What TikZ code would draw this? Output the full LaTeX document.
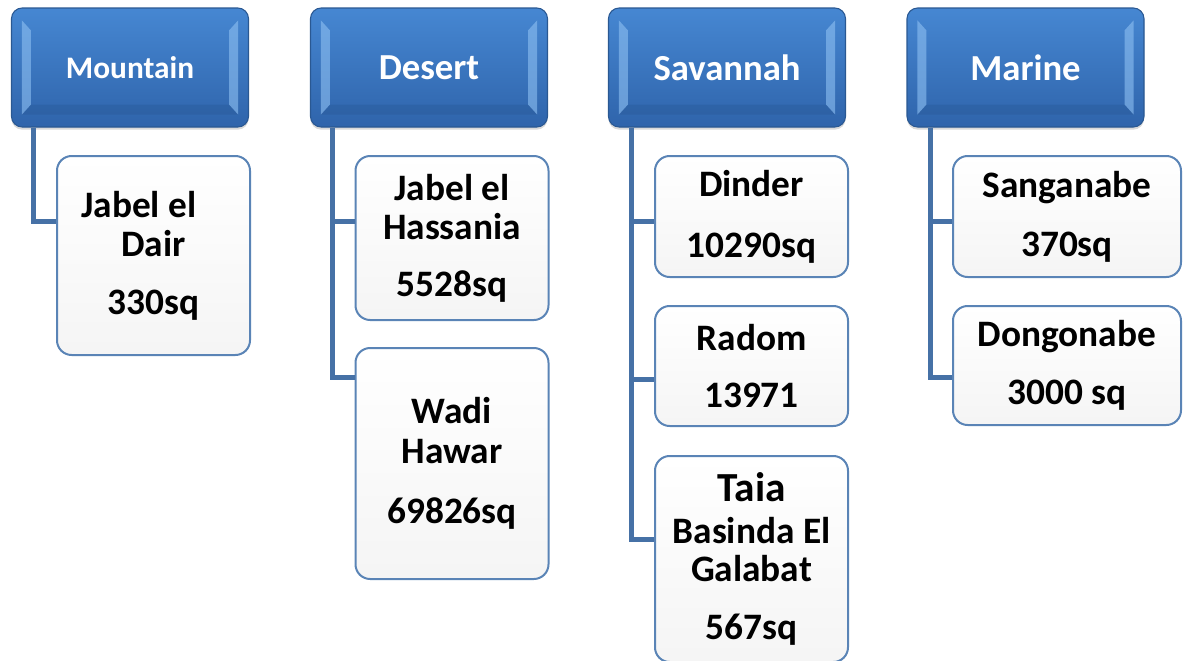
\documentclass[tikz,border=0pt]{standalone}
\usepackage{fontspec}
\setmainfont{Carlito}
\usetikzlibrary{calc,shadows}

\definecolor{hdrtop}{HTML}{4687D2}
\definecolor{hdrbot}{HTML}{2F64AB}
\definecolor{hdredge}{HTML}{2A5892}
\definecolor{bevelhi}{HTML}{8EC0F2}
\definecolor{beveldk}{HTML}{234F88}
\definecolor{leafedge}{HTML}{5A84B6}
\definecolor{linkblue}{HTML}{4671A6}

\tikzset{
  hdr/.style={rounded corners=8pt, minimum width=177.75pt, minimum height=89.25pt,
    top color=hdrtop, bottom color=hdrbot, draw=hdredge, line width=0.8pt,
    text=white, font=\fontsize{27.5}{30}\selectfont\bfseries,
    drop shadow={shadow xshift=0pt, shadow yshift=-2pt, opacity=0.3}},
  leaf/.style={rounded corners=11pt, minimum width=144.75pt, draw=leafedge,
    line width=1.5pt, top color=white, bottom color=black!4, align=center,
    font=\fontsize{28}{29.5}\selectfont\bfseries},
  link/.style={draw=linkblue, line width=3.75pt}
}

% light edges of a header box
\newcommand{\hdrbevel}[1]{%
  \fill[bevelhi, opacity=0.6] ($(#1.north west)+(11,13)$) -- ($(#1.north west)+(20,23)$)
    -- ($(#1.south west)+(20,-23)$) -- ($(#1.south west)+(11,-13)$) -- cycle;
  \fill[bevelhi, opacity=0.6] ($(#1.north east)+(-11,13)$) -- ($(#1.north east)+(-20,23)$)
    -- ($(#1.south east)+(-20,-23)$) -- ($(#1.south east)+(-11,-13)$) -- cycle;
  \fill[beveldk, opacity=0.25] ($(#1.south west)+(11,-13)$) -- ($(#1.south west)+(20,-23)$)
    -- ($(#1.south east)+(-20,-23)$) -- ($(#1.south east)+(-11,-13)$) -- cycle;
}

\begin{document}
\begin{tikzpicture}[x=0.75pt,y=-0.75pt]
\useasboundingbox (0,0) rectangle (1183,661);

% column heads
\node[hdr, font=\fontsize{23.5}{26}\selectfont\bfseries] (mountain) at (130,67.5) {Mountain};
\node[hdr] (desert) at (429,67.5) {Desert};
\node[hdr] (savannah) at (727,67.5) {Savannah};
\node[hdr] (marine) at (1025.5,67.5) {Marine};
\hdrbevel{mountain}
\hdrbevel{desert}
\hdrbevel{savannah}
\hdrbevel{marine}

% reserves
\node[leaf, minimum height=149.25pt] (dair) at (153.5,255.5)
  {Jabel el\hspace*{22pt}\\Dair\\[14pt]330sq};

\node[leaf, minimum height=123pt] (hassania) at (452,238)
  {Jabel el\\Hassania\\[13pt]5528sq};
\node[leaf, minimum height=173.25pt] (hawar) at (452,463.5)
  {Wadi\\Hawar\\[16pt]69826sq};

\node[leaf, minimum height=90.75pt] (dinder) at (751.5,216.5)
  {Dinder\\[16pt]10290sq};
\node[leaf, minimum height=90pt] (radom) at (751.5,366)
  {Radom\\[13pt]13971};
\node[leaf, minimum height=154.5pt] (galabat) at (751.5,559)
  {{\fontsize{31}{31}\selectfont Taia}\\[2pt]Basinda El\\[-1.5pt]Galabat\\[14pt]567sq};

\node[leaf, minimum width=171pt, minimum height=90.75pt] (sanganabe) at (1067,216.5)
  {Sanganabe\\[15pt]370sq};
\node[leaf, minimum width=171pt, minimum height=89.25pt] (dongonabe) at (1067,365.5)
  {Dongonabe\\[14pt]3000 sq};

% links
\draw[link] ($(mountain.south west)+(23,0)$) |- ($(dair.north west)+(0,66)$);

\draw[link] ($(desert.south west)+(23,0)$) |- ($(hassania.north west)+(0,66)$);
\draw[link] ($(desert.south west)+(23,0)$) |- ($(hawar.north west)+(0,30)$);

\draw[link] ($(savannah.south west)+(24,0)$) |- ($(dinder.north west)+(0,66)$);
\draw[link] ($(savannah.south west)+(24,0)$) |- ($(radom.north west)+(0,74)$);
\draw[link] ($(savannah.south west)+(24,0)$) |- ($(galabat.north west)+(0,84)$);

\draw[link] ($(marine.south west)+(24,0)$) |- ($(sanganabe.north west)+(0,66)$);
\draw[link] ($(marine.south west)+(24,0)$) |- ($(dongonabe.north west)+(0,72)$);

\end{tikzpicture}
\end{document}
